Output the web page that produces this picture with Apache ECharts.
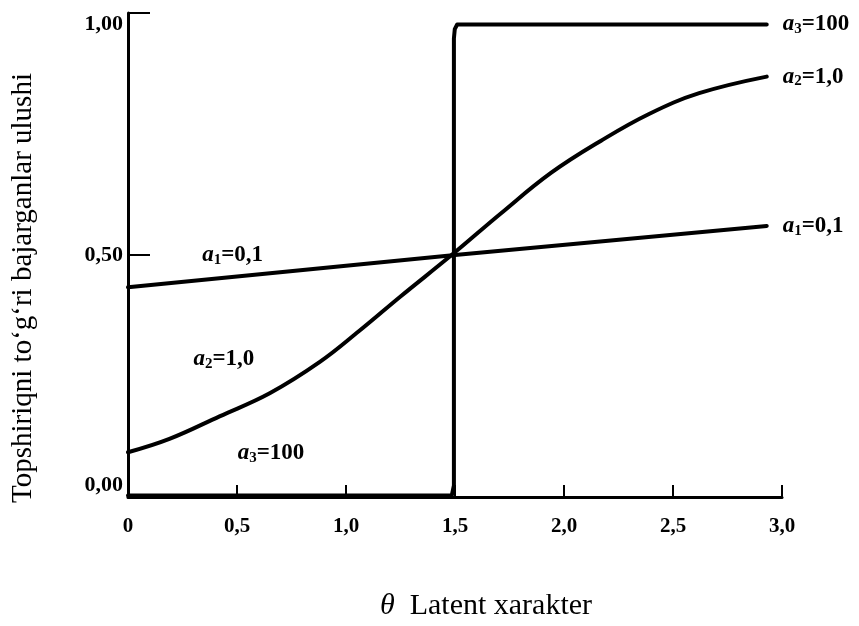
<!DOCTYPE html>
<html><head><meta charset="utf-8">
<script src="https://cdn.jsdelivr.net/npm/echarts@6/dist/echarts.min.js"></script>
<style>html,body{margin:0;padding:0;background:#fff}#c{width:859px;height:626px}</style>
</head><body><div id="c"></div>
<script>
// ---- data ----
const xTicks = [0, 0.5, 1.0, 1.5, 2.0, 2.5, 3.0];
const yTicks = [0, 0.5, 1.0];
const thetaA1 = [0, 1.5, 2.93];
const valuesA1 = [0.43, 0.50, 0.563];
const thetaA2 = [0, 0.19, 0.42, 0.65, 0.88, 1.06, 1.25, 1.49, 1.71, 1.94, 2.17, 2.39, 2.62, 2.93];
const valuesA2 = [0.072, 0.101, 0.150, 0.200, 0.268, 0.335, 0.410, 0.502, 0.590, 0.678, 0.748, 0.806, 0.851, 0.887];
const thetaA3 = [0, 1.485, 1.495, 1.495, 1.499, 1.51, 1.53, 2.93];
const valuesA3 = [-0.022, -0.022, 0.0, 0.97, 0.99, 1.0, 1.0, 1.0];
const subs = ['1', '2', '3'];
const paramText = ['=0,1', '=1,0', '=100'];
const xTitle = 'Latent xarakter';
const yTitle = 'Topshiriqni to\u2018g\u2018ri bajarganlar ulushi';

const FONT = '"Liberation Serif","Times New Roman",serif';
const pair = (xs, ys) => xs.map((x, i) => [x, ys[i]]);
const lbl = i => '{i|a}{s|' + subs[i] + '}{n|' + paramText[i] + '}';
const rich = {
  i: {fontFamily: FONT, fontStyle: 'italic', fontWeight: 'bold', fontSize: 23, color: '#000', lineHeight: 25, verticalAlign: 'middle'},
  s: {fontFamily: FONT, fontWeight: 'bold', fontSize: 15, color: '#000', lineHeight: 15, verticalAlign: 'bottom', padding: [7, 0, 0, 0]},
  n: {fontFamily: FONT, fontWeight: 'bold', fontSize: 23, color: '#000', lineHeight: 25, verticalAlign: 'middle'}
};
const comma = (v, d) => v.toFixed(d).replace('.', ',');

const lineSeries = (name, data, idx, smooth, inPlot) => ({
  name, type: 'line', data, smooth, symbol: 'none', silent: true,
  lineStyle: {color: '#000', width: 4, cap: 'round', join: 'round'},
  endLabel: {show: true, formatter: () => lbl(idx), rich, distance: 16},
  markPoint: {
    symbol: 'circle', symbolSize: 0, silent: true,
    label: {show: true, formatter: () => lbl(idx), rich, position: 'inside'},
    data: [{coord: inPlot}]
  }
});

const chart = echarts.init(document.getElementById('c'), null, {renderer: 'canvas'});
chart.setOption({
  backgroundColor: '#fff',
  animation: false,
  grid: {left: 128, right: 77, top: 13, bottom: 124, containLabel: false},
  xAxis: {
    type: 'value', min: 0, max: 3, interval: 0.5,
    axisLine: {onZero: false, lineStyle: {color: '#000', width: 3}},
    axisTick: {inside: true, length: 12, lineStyle: {color: '#000', width: 2}},
    splitLine: {show: false},
    axisLabel: {
      color: '#000', fontFamily: FONT, fontWeight: 'bold', fontSize: 21, margin: 19,
      formatter: v => v === 0 ? '0' : comma(v, 1)
    },
    name: '{t|\u03b8}  ' + xTitle, nameLocation: 'middle', nameGap: 94,
    nameTextStyle: {
      color: '#000', fontFamily: FONT, fontSize: 30, padding: [0, 0, 0, 62],
      rich: {t: {fontFamily: FONT, fontStyle: 'italic', fontSize: 30, color: '#000'}}
    }
  },
  yAxis: {
    type: 'value', min: -0.025, max: 1.025,
    axisLine: {onZero: false, lineStyle: {color: '#000', width: 3}},
    axisTick: {inside: true, length: 22, customValues: [0.5, 1.025], lineStyle: {color: '#000', width: 2}},
    splitLine: {show: false},
    axisLabel: {
      customValues: yTicks,
      color: '#000', fontFamily: FONT, fontWeight: 'bold', fontSize: 22, margin: 5,
      formatter: v => comma(v, 2)
    },
    name: yTitle, nameLocation: 'middle', nameGap: 90, nameRotate: 90,
    nameTextStyle: {color: '#000', fontFamily: FONT, fontSize: 29, padding: [0, 66, 0, 0]}
  },
  series: [
    lineSeries('a1', pair(thetaA1, valuesA1), 0, false, [0.48, 0.50]),
    lineSeries('a2', pair(thetaA2, valuesA2), 1, 0.4, [0.44, 0.274]),
    lineSeries('a3', pair(thetaA3, valuesA3), 2, false, [0.656, 0.07])
  ]
});
</script>
</body></html>
